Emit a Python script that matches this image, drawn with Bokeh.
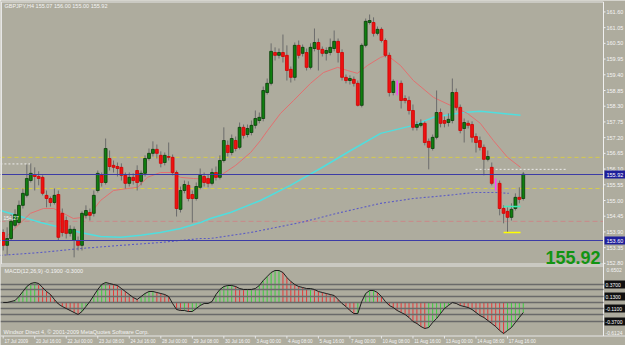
import numpy as np
from bokeh.plotting import figure
from bokeh.models import Range1d
from bokeh.embed import file_html
from bokeh.resources import INLINE
from bokeh.core.properties import value

# ---------------- data ----------------
symbol_text = "GBPJPY,H4  155.07 156.00 155.00 155.92"
last_price = "155.92"

date_bars = [0, 8, 16, 24, 32, 40, 48, 56, 64, 72, 80, 88, 96, 104, 112, 120, 128]
date_labels = ["17 Jul 2009", "20 Jul 16:00", "22 Jul 00:00", "23 Jul 08:00", "24 Jul 16:00",
               "28 Jul 00:00", "29 Jul 08:00", "30 Jul 16:00", "3 Aug 00:00", "4 Aug 08:00",
               "5 Aug 16:00", "7 Aug 00:00", "10 Aug 08:00", "11 Aug 16:00", "13 Aug 00:00",
               "14 Aug 08:00", "17 Aug 16:00"]

opens = [153.88, 153.43, 153.67, 154.13, 154.23, 154.83, 155.18, 155.70, 155.91, 155.84,
         155.81, 155.18, 155.07, 154.93, 155.21, 154.55, 154.30, 153.85, 153.60, 153.60,
         153.43, 154.48, 154.58, 154.55, 155.35, 155.88, 155.63, 156.47, 156.23, 156.19,
         156.16, 155.88, 155.60, 155.81, 156.05, 155.67, 155.95, 156.47, 156.65, 156.79,
         156.58, 156.33, 156.54, 156.51, 155.98, 154.69, 155.35, 155.53, 155.21, 155.07,
         155.46, 155.84, 155.77, 155.60, 155.98, 155.81, 156.40, 156.93, 156.68, 157.10,
         156.86, 157.56, 157.31, 157.38, 157.63, 157.80, 157.87, 158.78, 159.10, 160.18,
         160.08, 160.18, 160.08, 159.59, 159.31, 160.43, 160.15, 160.18, 159.66, 160.32,
         160.53, 160.29, 160.15, 160.18, 160.32, 160.57, 160.18, 159.31, 159.20, 159.24,
         159.10, 158.33, 160.43, 161.23, 161.23, 160.85, 160.99, 160.60, 160.08, 158.78,
         158.92, 159.10, 158.57, 158.50, 158.15, 157.56, 157.63, 157.70, 157.07, 156.82,
         157.21, 158.08, 157.80, 157.73, 157.80, 158.78, 158.26, 157.52, 157.70, 157.66,
         157.24, 157.10, 156.86, 156.44, 156.16, 155.56, 155.60, 154.72, 154.62, 154.41,
         154.72, 155.11, 155.07]
highs = [153.99, 154.06, 154.51, 154.69, 155.00, 155.42, 156.26, 156.30, 156.16, 156.02,
         155.88, 155.35, 155.14, 155.42, 155.35, 154.72, 154.44, 154.13, 154.09, 153.74,
         154.62, 154.83, 154.72, 155.35, 156.05, 155.98, 157.17, 156.75, 156.40, 156.33,
         156.30, 155.98, 155.98, 155.95, 156.23, 156.05, 156.58, 156.82, 157.07, 156.96,
         156.72, 156.68, 157.03, 156.61, 156.05, 155.49, 155.70, 155.67, 155.35, 155.63,
         156.12, 155.98, 155.91, 156.12, 156.19, 156.58, 157.56, 157.10, 157.31, 157.24,
         157.73, 157.66, 157.66, 157.80, 158.15, 158.08, 158.99, 159.27, 160.50, 160.36,
         160.32, 160.81, 160.43, 159.69, 160.53, 160.60, 160.46, 160.32, 160.50, 161.02,
         160.67, 160.39, 160.36, 160.67, 160.95, 160.67, 160.29, 159.41, 159.38, 159.34,
         159.20, 160.50, 161.37, 161.51, 161.41, 161.09, 161.06, 160.67, 160.18, 159.24,
         159.20, 159.20, 158.68, 158.64, 158.36, 157.77, 157.84, 157.77, 157.17, 157.31,
         158.85, 158.22, 157.94, 158.05, 159.27, 158.92, 158.36, 157.87, 157.80, 157.77,
         157.35, 157.24, 156.96, 156.75, 156.33, 155.77, 155.70, 154.83, 154.76, 154.90,
         155.25, 155.46, 156.00]
lows = [153.25, 153.08, 153.60, 154.06, 154.16, 154.72, 155.11, 155.63, 155.35, 155.53,
        155.18, 154.76, 154.79, 154.86, 153.60, 153.74, 153.67, 153.74, 153.01, 153.25,
        153.25, 154.37, 154.30, 154.44, 155.28, 155.49, 155.56, 156.05, 155.98, 155.84,
        155.70, 155.42, 155.49, 155.56, 155.35, 155.53, 155.84, 156.40, 156.54, 156.47,
        156.16, 156.23, 156.40, 155.88, 154.44, 154.58, 155.25, 154.97, 154.23, 155.00,
        155.39, 155.49, 155.46, 155.53, 155.70, 155.74, 156.33, 156.54, 156.58, 156.72,
        156.79, 157.17, 157.21, 157.28, 157.52, 157.70, 157.77, 158.71, 159.03, 159.90,
        159.97, 159.83, 159.20, 159.13, 159.20, 159.97, 160.04, 159.55, 159.59, 160.22,
        159.55, 160.04, 159.90, 160.08, 160.22, 159.83, 159.20, 159.10, 159.06, 158.99,
        158.29, 158.26, 160.36, 161.16, 160.74, 160.78, 160.53, 160.01, 158.64, 158.68,
        158.68, 158.22, 158.40, 158.01, 157.45, 157.45, 157.56, 156.93, 156.09, 156.75,
        157.14, 157.56, 157.56, 157.59, 157.70, 158.15, 157.35, 157.03, 157.52, 157.03,
        156.68, 156.75, 155.88, 156.37, 155.53, 155.35, 154.48, 154.20, 153.88, 154.30,
        154.65, 154.90, 155.00]
closes = [153.43, 153.67, 154.27, 154.51, 154.83, 155.25, 155.77, 155.95, 155.84, 155.77,
          155.25, 155.07, 154.93, 155.18, 153.71, 153.88, 153.85, 153.99, 153.99, 153.43,
          154.55, 154.65, 154.48, 155.18, 155.95, 155.63, 156.82, 156.19, 156.16, 156.12,
          155.88, 155.60, 155.81, 155.70, 155.63, 155.95, 156.47, 156.65, 156.79, 156.65,
          156.30, 156.58, 156.51, 155.98, 154.72, 155.35, 155.56, 155.07, 155.07, 155.49,
          155.88, 155.63, 155.60, 155.98, 155.81, 156.40, 157.10, 156.68, 157.17, 156.82,
          157.56, 157.28, 157.52, 157.63, 157.87, 157.91, 158.85, 159.10, 160.22, 160.08,
          160.18, 160.04, 159.55, 159.31, 160.43, 160.08, 160.36, 159.66, 160.36, 160.53,
          160.29, 160.15, 160.25, 160.36, 160.57, 160.18, 159.31, 159.20, 159.27, 159.10,
          158.33, 160.43, 161.27, 161.30, 160.85, 160.99, 160.60, 160.08, 158.78, 159.17,
          158.92, 158.50, 158.50, 158.15, 157.56, 157.66, 157.70, 157.03, 156.86, 157.21,
          158.08, 157.70, 157.70, 157.84, 158.78, 158.26, 157.45, 157.73, 157.63, 157.21,
          157.03, 156.86, 156.44, 156.54, 155.60, 155.56, 154.72, 154.55, 154.41, 154.69,
          155.11, 155.04, 155.92]
magenta_bars = [100, 125]

ma_red_x = [0.6, 1.9, 6.9, 10.2, 12.8, 15.3, 17.8, 20.4, 22.2, 24.7, 28.0, 31.6, 34.1, 36.6,
            39.9, 42.5, 45.0, 48.3, 52.6, 55.2, 59.0, 62.8, 65.3, 67.1, 70.4, 73.7, 78.0,
            81.3, 84.9, 87.4, 89.9, 92.5, 95.8, 97.5, 100.8, 104.1, 109.2, 113.5, 117.8,
            121.1, 124.4, 128.0, 131.3]
ma_red = [153.71, 153.88, 154.55, 154.72, 154.72, 154.55, 154.37, 154.41, 154.55, 155.00,
          155.35, 155.42, 155.46, 155.81, 155.98, 155.98, 155.81, 155.77, 155.74, 155.88,
          156.23, 156.68, 157.10, 157.45, 158.05, 158.50, 159.10, 159.48, 159.66, 159.55,
          159.45, 159.73, 160.01, 160.08, 159.73, 159.20, 158.61, 158.33, 158.05, 157.70,
          157.10, 156.51, 156.16]
ma_cyan_x = [-0.7, 4.4, 9.5, 14.5, 19.6, 24.7, 29.8, 34.9, 39.9, 45.0, 50.1, 52.6, 57.7,
             65.3, 72.9, 80.5, 88.2, 95.8, 104.1, 109.2, 116.8, 121.1, 126.2, 131.3]
ma_cyan = [154.65, 154.44, 154.23, 154.06, 153.88, 153.74, 153.71, 153.78, 153.88, 154.02,
           154.23, 154.37, 154.58, 155.00, 155.53, 156.12, 156.75, 157.35, 157.63, 157.91,
           158.08, 158.12, 158.05, 157.98]
ma_slow_x = [-0.7, 9.5, 19.6, 29.8, 39.9, 50.1, 52.6, 62.8, 75.5, 85.6, 95.8, 104.1, 112.8,
             119.4, 125.5, 128.3]
ma_slow = [153.08, 153.18, 153.32, 153.43, 153.53, 153.67, 153.67, 153.88, 154.23, 154.58,
           154.90, 155.07, 155.18, 155.28, 155.28, 155.25]

blue_levels = [155.91, 153.60]
blue_level_labels = ["155.92", "153.60"]
yellow_levels = [156.51, 155.42]
pink_levels = [154.27]
pink_label = "154.27"
pivot_x0 = [-0.7, 119.9]
pivot_x1 = [6.9, 143.2]
pivot_y = [156.28, 156.09]
end_cyan = 154.79
end_yellow = 153.88
end_x0, end_x1 = 127.0, 131.3

price_ticks = [161.60, 161.05, 160.50, 159.95, 159.40, 158.85, 158.30, 157.75, 157.20,
               156.65, 156.10, 155.55, 155.00, 154.45, 153.90, 153.35, 152.80]

macd = [0.01, 0.01, 0.03, 0.05, 0.13, 0.23, 0.33, 0.39, 0.41, 0.39,
        0.31, 0.23, 0.17, 0.07, -0.02, -0.07, -0.11, -0.15, -0.19, -0.23,
        -0.17, -0.07, 0.03, 0.15, 0.27, 0.37, 0.41, 0.39, 0.37, 0.35,
        0.29, 0.23, 0.17, 0.11, 0.07, 0.13, 0.19, 0.23, 0.23, 0.21,
        0.19, 0.17, 0.13, -0.01, -0.13, -0.15, -0.15, -0.17, -0.17, -0.11,
        -0.05, -0.01, -0.01, 0.03, 0.17, 0.27, 0.33, 0.35, 0.35, 0.33,
        0.29, 0.27, 0.27, 0.27, 0.29, 0.35, 0.45, 0.53, 0.61, 0.65,
        0.65, 0.61, 0.51, 0.43, 0.37, 0.33, 0.31, 0.29, 0.29, 0.27,
        0.23, 0.21, 0.19, 0.17, 0.15, 0.07, -0.01, -0.07, -0.15, -0.21,
        -0.21, 0.03, 0.19, 0.25, 0.25, 0.21, 0.13, 0.03, -0.05, -0.09,
        -0.15, -0.19, -0.23, -0.29, -0.37, -0.41, -0.47, -0.51, -0.49, -0.39,
        -0.31, -0.21, -0.11, -0.05, 0.01, -0.01, -0.05, -0.07, -0.09, -0.13,
        -0.19, -0.25, -0.29, -0.35, -0.41, -0.47, -0.55, -0.61, -0.55, -0.49,
        -0.39, -0.29, -0.19]
macd_levels = [0.37, 0.27, 0.13, 0.01, -0.11, -0.23, -0.37]
macd_box_levels = [0.37, 0.13, -0.11, -0.37]
macd_box_labels = ["0.3700", "0.1300", "-0.1100", "-0.3700"]
macd_top_label = "0.6502"
macd_bottom_label = "-0.6124"
macd_title = "MACD(12,26,9) -0.1900 -0.3000"
footer = "Windsor Direct 4, \u00a9 2001-2009 MetaQuotes Software Corp."

# ---------------- layout helpers (pixel -> data) ----------------
W, H = 625, 345
PXB = 3.94
X0 = -0.685
X1 = X0 + W / PXB


def xp(px):
    return X0 + px / PXB


def yp(py):
    return 162.0 - 0.035 * py


def ym(py):
    return (302.5 - py) * 0.02


BG = "#aeac9e"
FONT = value("Liberation Sans")
LIGHT = "#f4f4f4"

p = figure(width=W, height=H, x_range=Range1d(X0, X1), y_range=Range1d(yp(H), yp(0)),
           output_backend="svg", toolbar_location=None, min_border=0,
           x_axis_location=None, y_axis_location=None,
           background_fill_color=BG, border_fill_color=BG, outline_line_color=None)
p.grid.visible = False
p.extra_y_ranges = {"macd": Range1d(ym(H), ym(0))}

n = len(closes)
idx = np.arange(n)
o = np.array(opens); h = np.array(highs); l = np.array(lows); c = np.array(closes)
mag = np.zeros(n, dtype=bool); mag[magenta_bars] = True
bull = (c > o) & ~mag
bear = (c < o) & ~mag

# horizontal levels (behind candles)
RIGHT = xp(603)
p.segment(x0=[X0] * len(yellow_levels), y0=yellow_levels, x1=[RIGHT] * len(yellow_levels),
          y1=yellow_levels, line_color="#d6cc4a", line_width=1, line_dash="4 3")
p.segment(x0=[X0], y0=pink_levels, x1=[RIGHT], y1=pink_levels,
          line_color="#c98a8a", line_width=1, line_dash="5 3")
p.segment(x0=pivot_x0, y0=pivot_y, x1=pivot_x1, y1=pivot_y,
          line_color="#ececec", line_width=1, line_dash="2 2")

# moving averages
p.line(ma_slow_x, ma_slow, line_color="#5c5cc4", line_width=1.1, line_dash="2 2")
p.line(ma_cyan_x, ma_cyan, line_color="#4fdede", line_width=1.5)
p.line(ma_red_x, ma_red, line_color="#e27070", line_width=1)

# candles
p.segment(x0=idx[~mag], y0=l[~mag], x1=idx[~mag], y1=h[~mag], line_color="#6c6c6c", line_width=1)
p.vbar(x=idx[bull], width=0.72, bottom=o[bull], top=c[bull],
       fill_color="#0f7f0f", line_color="#0a3c0a", line_width=0.8)
p.vbar(x=idx[bear], width=0.72, bottom=c[bear], top=o[bear],
       fill_color="#ee1111", line_color="#d00000", line_width=0.8)
p.segment(x0=idx[mag], y0=l[mag], x1=idx[mag], y1=h[mag], line_color="#ff3cff", line_width=1.5)

# blue horizontal lines
p.segment(x0=[X0] * 2, y0=blue_levels, x1=[RIGHT] * 2, y1=blue_levels,
          line_color="#3c3ca6", line_width=1.2)

# end markers
p.segment(x0=[end_x0], y0=[end_cyan], x1=[end_x1], y1=[end_cyan], line_color="#40e8b8", line_width=1.5)
p.segment(x0=[end_x0], y0=[end_yellow], x1=[end_x1], y1=[end_yellow], line_color="#ffff00", line_width=1.5)

# frame lines
p.segment(x0=[xp(0), xp(1), xp(0), xp(0), xp(0)],
          y0=[yp(1.5), yp(1.5), yp(263.5), yp(265.5), yp(335.5)],
          x1=[RIGHT, xp(1), RIGHT, RIGHT, xp(625)],
          y1=[yp(1.5), yp(263.5), yp(263.5), yp(265.5), yp(335.5)],
          line_color="#e6e6e6", line_width=1)
p.segment(x0=[RIGHT], y0=[yp(1.5)], x1=[RIGHT], y1=[yp(335.5)], line_color="#f0f0f0", line_width=1)

# price axis labels
p.segment(x0=[RIGHT] * len(price_ticks), y0=price_ticks, x1=[xp(605)] * len(price_ticks),
          y1=price_ticks, line_color="#f0f0f0", line_width=1)
p.text(x=[xp(606)] * len(price_ticks), y=price_ticks, text=[f"{v:.2f}" for v in price_ticks],
       text_font=FONT, text_font_size=value("5.5px"), text_color=LIGHT,
       text_baseline="middle", text_align="left")
p.quad(left=[xp(604)] * 2, right=[xp(625)] * 2,
       top=[v + 0.035 * 4 for v in blue_levels], bottom=[v - 0.035 * 4 for v in blue_levels],
       fill_color="#1e1e9a", line_color=None)
p.text(x=[xp(606)] * 2, y=blue_levels, text=blue_level_labels, text_font=FONT,
       text_font_size=value("5.5px"), text_color="#ffffff", text_baseline="middle", text_align="left")

# texts in main panel
p.text(x=[xp(4)], y=[yp(5)], text=[symbol_text], text_font=FONT, text_font_size=value("5.5px"),
       text_color=LIGHT, text_baseline="middle", text_align="left")
p.text(x=[xp(3)], y=[yp(217)], text=[pink_label], text_font=FONT, text_font_size=value("5px"),
       text_color=LIGHT, text_baseline="middle", text_align="left")
p.text(x=[xp(600)], y=[yp(263)], text=[last_price], text_font=FONT, text_font_size=value("18px"),
       text_font_style="bold", text_color="#129412", text_baseline="bottom", text_align="right")

# ---------------- MACD panel ----------------
mc = np.array(macd)
colors = ["#3fcf3f" if (i == 0 or mc[i] >= mc[i - 1]) else "#e83a3a" for i in range(n)]
p.segment(x0=idx, y0=np.zeros(n), x1=idx, y1=mc, line_color=colors, line_width=1,
          y_range_name="macd")
p.segment(x0=[X0] * len(macd_levels), y0=macd_levels, x1=[RIGHT] * len(macd_levels),
          y1=macd_levels, line_color="#6a6a6a", line_width=1.5, y_range_name="macd")
p.line(idx, mc, line_color="#1e1e1e", line_width=1, y_range_name="macd")

p.text(x=[xp(4)], y=[ym(270)], text=[macd_title], text_font=FONT, text_font_size=value("5.5px"),
       text_color=LIGHT, text_baseline="middle", text_align="left", y_range_name="macd")
p.quad(left=[xp(604)] * 4, right=[xp(625)] * 4,
       top=[v + 0.02 * 4 for v in macd_box_levels], bottom=[v - 0.02 * 4 for v in macd_box_levels],
       fill_color="#101010", line_color=None, y_range_name="macd")
p.text(x=[xp(605)] * 4, y=macd_box_levels, text=macd_box_labels, text_font=FONT,
       text_font_size=value("5px"), text_color="#ffffff", text_baseline="middle",
       text_align="left", y_range_name="macd")
p.text(x=[xp(606), xp(605)], y=[ym(269), ym(332)], text=[macd_top_label, macd_bottom_label],
       text_font=FONT, text_font_size=value("5px"), text_color=LIGHT, text_baseline="middle",
       text_align="left", y_range_name="macd")
p.text(x=[xp(3)], y=[ym(331)], text=[footer], text_font=FONT, text_font_size=value("5.5px"),
       text_color=LIGHT, text_baseline="middle", text_align="left", y_range_name="macd")

# date axis
p.segment(x0=date_bars, y0=[yp(335.5)] * len(date_bars), x1=date_bars,
          y1=[yp(338)] * len(date_bars), line_color="#e6e6e6", line_width=1)
p.text(x=[b + 0.3 for b in date_bars], y=[yp(340.5)] * len(date_bars), text=date_labels,
       text_font=FONT, text_font_size=value("4.6px"), text_color=LIGHT,
       text_baseline="middle", text_align="left")

open("out.html", "w").write(file_html(p, INLINE))
